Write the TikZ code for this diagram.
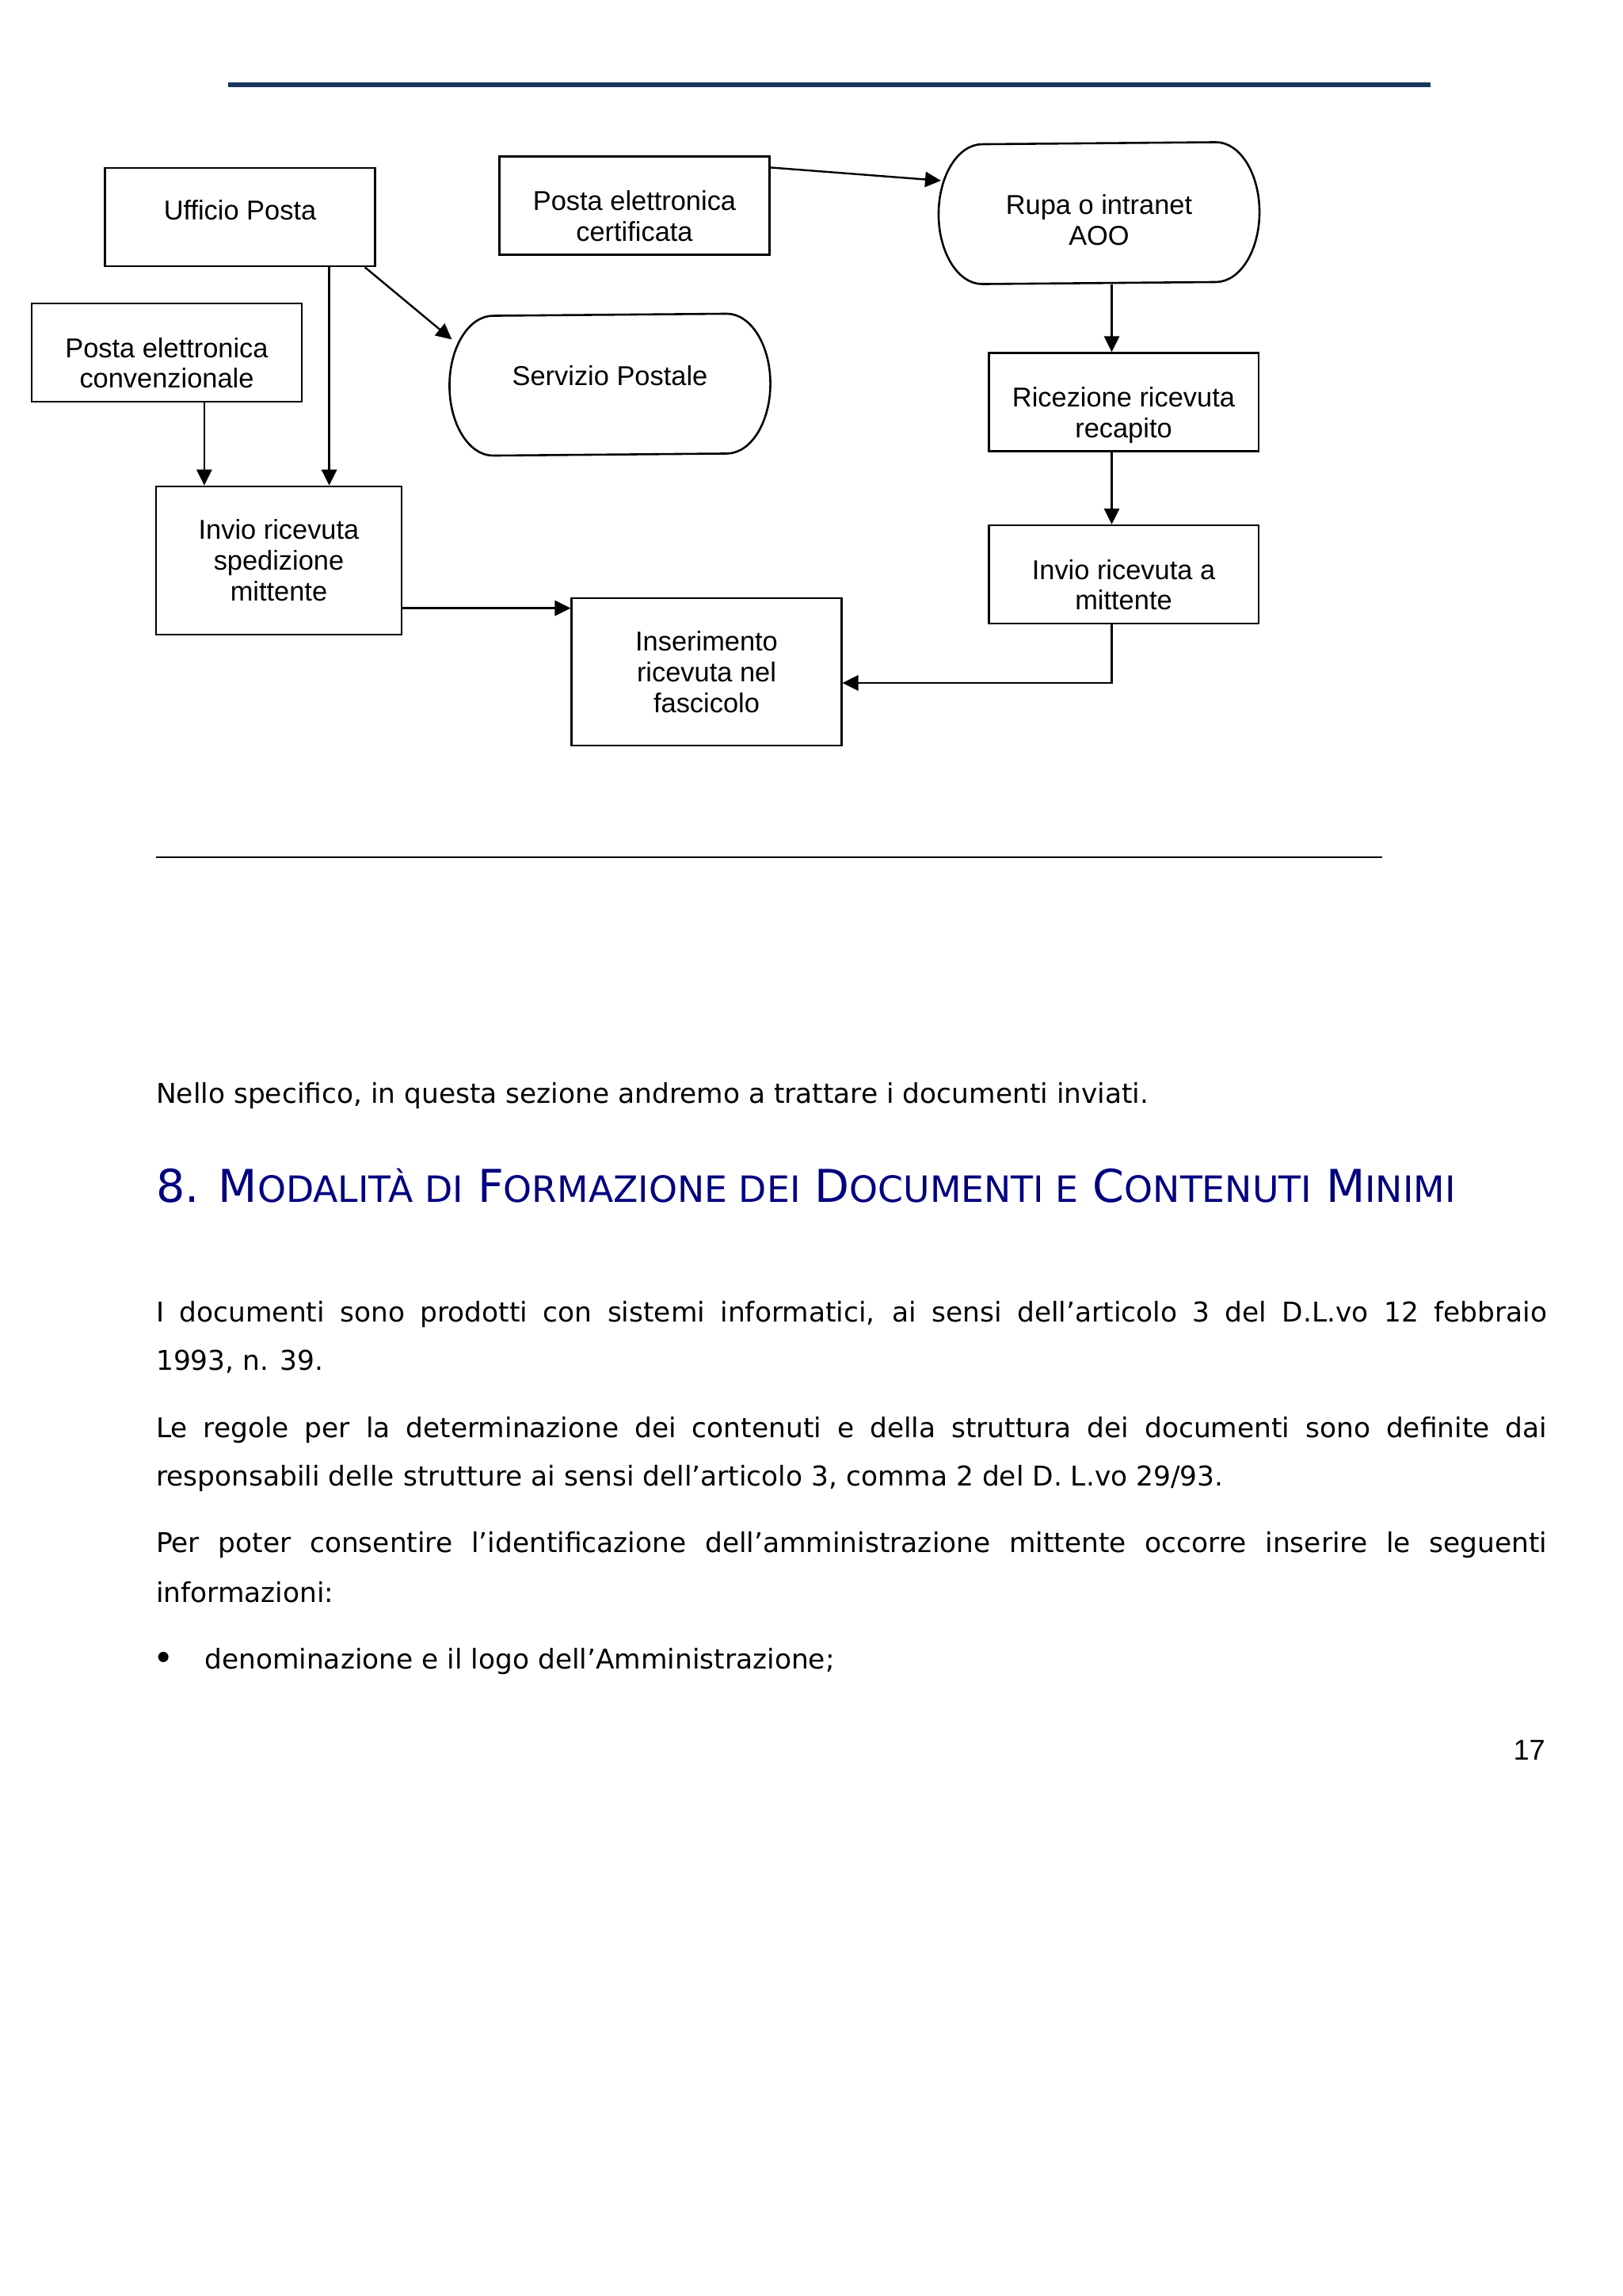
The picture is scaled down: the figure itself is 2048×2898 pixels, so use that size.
\documentclass[tikz,border=0pt]{standalone}
\usepackage{fontspec}
\setmainfont{DejaVu Sans}
\newfontfamily\arial{Liberation Sans}
\usepackage{xcolor}
\definecolor{blunavy}{HTML}{000080}
\definecolor{filetto}{HTML}{17365D}
\usepackage{tikz}
\usetikzlibrary{arrows.meta}
\usetikzlibrary{calc}
\newcommand{\maiusc}[1]{{\fontsize{13.3pt}{15pt}\selectfont #1}}

\begin{document}
\begin{tikzpicture}[x=0.29066pt, y=-0.29066pt, line width=0.7pt,
    >={Triangle[length=5.8pt,width=5.6pt]},
    casella/.style={draw, line width=0.75pt, minimum width=99pt, minimum height=36pt,
      align=center, inner sep=1pt, font=\arial\fontsize{10}{11.3}\selectfont},
    terminale/.style={casella, draw=none, minimum width=117pt, minimum height=51.3pt},
    riga/.style={anchor=base west, inner sep=0, font=\fontsize{10}{12}\selectfont}]
            \useasboundingbox (0,0) rectangle (2048,2898);

            \draw[filetto, line width=2pt] (288,107) -- (1806,107);

            \node[casella] (uff) at (303,274) {Ufficio Posta\rule[-5.2pt]{0pt}{0pt}};
            \node[casella] (cert) at (801,259.5) {\rule{0pt}{14.9pt}Posta elettronica\\certificata};
            \node[casella] (conv) at (210.5,445) {\rule{0pt}{14.9pt}Posta elettronica\\convenzionale};
            \node[terminale] (serv) at (770,485.5) {Servizio Postale\rule[-6.4pt]{0pt}{0pt}};
            \node[casella, minimum width=90pt, minimum height=54.4pt] (spediz) at (352,707.5) {Invio ricevuta\\spedizione\\mittente};
            \node[casella, minimum height=54.1pt] (inser) at (892,848) {Inserimento\\ricevuta nel\\fascicolo};
            \node[terminale] (rupa) at (1387.5,269) {\rule{0pt}{12.5pt}Rupa o intranet\\AOO};
            \node[casella] (ricez) at (1418.5,507.5) {\rule{0pt}{17.1pt}Ricezione ricevuta\\recapito};
            \node[casella] (inviom) at (1418.5,725) {\rule{0pt}{14.9pt}Invio ricevuta a\\mittente};

            \foreach \t in {serv, rupa}
                \draw[line width=0.75pt] ([xshift=-16pt]\t.north east)
                    arc[start angle=90, end angle=-90, x radius=16pt, y radius=25.65pt]
                    -- ([xshift=16pt]\t.south west)
                    arc[start angle=270, end angle=90, x radius=16pt, y radius=25.65pt] -- cycle;

            \draw[->] ([yshift=-4.4pt]cert.north east) -- ($(rupa.west)+(3,-41)$);
            \draw[->] ($(uff.south east)+(-14,0)$) -- ($(serv.west)+(3,-57)$);

            \coordinate (u1) at ($(uff.south east)+(-59,0)$);
            \coordinate (c1) at ($(spediz.north west)+(62,0)$);
            \coordinate (i1) at ($(inser.north west)+(0,14)$);
            \coordinate (r1) at ($(ricez.north)+(-15,0)$);
            \draw[->] (u1) -- (u1 |- spediz.north);
            \draw[->] (c1 |- conv.south) -- (c1);
            \draw[->] (spediz.east |- i1) -- (i1);
            \draw[->] (rupa.south -| r1) -- (r1);
            \draw[->] ($(ricez.south)+(-15,0)$) -- ($(inviom.north)+(-15,0)$);
            \draw[->] ($(inviom.south)+(-15,0)$) |- ($(inser.east)+(0,14)$);

            \draw[line width=0.6pt] (197,1082) -- (1745,1082);

            \node[riga] (nello) at (196,1392) {Nello specifico, in questa sezione andremo a trattare i documenti inviati.};
            \node[riga, text=blunavy, font=\fontsize{16.6}{18}\selectfont] (titolo) at (196,1517)
                {8. M\maiusc{ODALITÀ DI} F\maiusc{ORMAZIONE DEI} D\maiusc{OCUMENTI E} C\maiusc{ONTENUTI} M\maiusc{INIMI}};
            \node[riga] (p1a) at (196,1668) {\makebox[510.4pt][s]{I documenti sono prodotti con sistemi informatici, ai sensi dell’articolo 3 del D.L.vo 12 febbraio}};
            \node[riga] (p1b) at (196,1729) {1993, n. 39.};
            \node[riga] (p2a) at (196,1814) {\makebox[510.4pt][s]{Le regole per la determinazione dei contenuti e della struttura dei documenti sono definite dai}};
            \node[riga] (p2b) at (196,1875) {responsabili delle strutture ai sensi dell’articolo 3, comma 2 del D. L.vo 29/93.};
            \node[riga] (p3a) at (196,1959) {\makebox[510.4pt][s]{Per poter consentire l’identificazione dell’amministrazione mittente occorre inserire le seguenti}};
            \node[riga] (p3b) at (196,2022) {informazioni:};
            \node[riga, font=\fontsize{13}{13}\selectfont] (punto) at (192,2108) {•};
            \node[riga] (elenco) at (257,2106) {denominazione e il logo dell’Amministrazione;};
            \node[anchor=base east, inner sep=0, font=\arial\fontsize{10.5}{12}\selectfont] (pagina) at (1952,2221) {17};
        \end{tikzpicture}
\end{document}
